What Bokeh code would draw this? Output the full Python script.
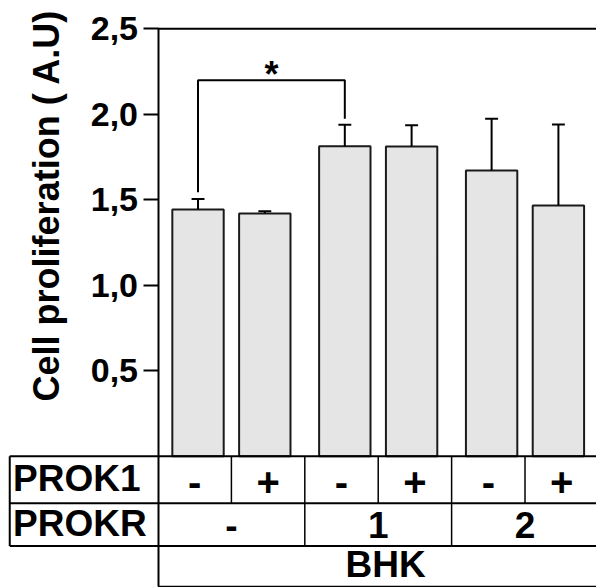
import math
from bokeh.plotting import figure
from bokeh.models import Range1d, FixedTicker, ColumnDataSource
from bokeh.core.properties import value
from bokeh.embed import file_html
from bokeh.resources import INLINE

# ---------------- data ----------------
prok1 = ["-", "+", "-", "+", "-", "+"]
prokr = ["-", "1", "2"]
cell_line = "BHK"
row_titles = ["PROK1", "PROKR"]
means = [1.443, 1.420, 1.813, 1.812, 1.671, 1.467]
sem = [0.061, 0.013, 0.126, 0.124, 0.303, 0.473]
y_ticks = [0.5, 1.0, 1.5, 2.0, 2.5]
y_tick_labels = ["0,5", "1,0", "1,5", "2,0", "2,5"]
y_title = "Cell proliferation ( A.U)"
sig_pair = (0, 2)
sig_mark = "*"

FONT = value("Liberation Sans")

# ---------------- layout helpers ----------------
n = len(means)
bar_x = [1 + 2 * (i // 2) + (-0.455 if i % 2 == 0 else 0.455) for i in range(n)]
err_top = [m + s for m, s in zip(means, sem)]
col_centers = [i + 0.5 for i in range(n)]
group_centers = [1 + 2 * g for g in range(len(prokr))]

Y0, Y1, Y2, Y3 = 0.0, -0.275, -0.525, -0.762   # table row boundaries
LEFT = -2.02                                   # left edge of the row-title column
YMAX = y_ticks[-1]

p = figure(width=596, height=587, x_range=Range1d(-2.146, 5.974), y_range=Range1d(-0.767, 2.665),
           output_backend="svg", toolbar_location=None, x_axis_location=None,
           min_border_left=0, min_border_right=0, min_border_top=0, min_border_bottom=0)
p.grid.visible = False
p.outline_line_color = None
p.background_fill_color = "white"
p.border_fill_color = "white"

ax = p.yaxis[0]
ax.fixed_location = 0
ax.ticker = FixedTicker(ticks=y_ticks)
ax.major_label_overrides = {t: l for t, l in zip(y_ticks, y_tick_labels)}
ax.bounds = (Y3, YMAX)
ax.axis_line_width = 2
ax.axis_line_color = "black"
ax.major_tick_line_width = 2
ax.major_tick_line_color = "black"
ax.major_tick_out = 15
ax.major_tick_in = 0
ax.minor_tick_line_color = None
ax.major_label_standoff = 5
ax.major_label_text_font = "Liberation Sans"
ax.major_label_text_font_style = "bold"
ax.major_label_text_font_size = "34px"
ax.major_label_text_color = "black"

# top border of the plot box
p.segment(x0=[0], y0=[YMAX], x1=[7], y1=[YMAX], line_color="black", line_width=2)

# bars
src = ColumnDataSource(dict(x=bar_x, top=means, et=err_top))
p.vbar(x="x", top="top", bottom=0, width=0.70, source=src,
       fill_color="#e5e5e5", line_color="#1a1a1a", line_width=2)
# error bars (upper only)
p.segment(x0="x", y0="top", x1="x", y1="et", source=src, line_color="black", line_width=2)
cap = 0.088
p.segment(x0=[x - cap for x in bar_x], y0=err_top, x1=[x + cap for x in bar_x], y1=err_top,
          line_color="black", line_width=2)

# significance bracket
a, b = sig_pair
br_y = 2.198
p.line(x=[bar_x[a], bar_x[a], bar_x[b], bar_x[b]],
       y=[err_top[a] + 0.04, br_y, br_y, err_top[b] + 0.035],
       line_color="black", line_width=2)
p.text(x=[(bar_x[a] + bar_x[b]) / 2], y=[br_y + 0.035], text=[sig_mark],
       text_align="center", text_baseline="alphabetic", text_font=FONT,
       text_font_style="bold", text_font_size="36px", text_color="black")

# table lines
p.segment(x0=[0, LEFT, LEFT, 0], y0=[Y0, Y1, Y2, Y3], x1=[7, 7, 7, 7], y1=[Y0, Y1, Y2, Y3],
          line_color="black", line_width=2)
p.segment(x0=[LEFT], y0=[Y0], x1=[0], y1=[Y0], line_color="black", line_width=2)
p.segment(x0=[LEFT], y0=[Y0], x1=[LEFT], y1=[Y2], line_color="black", line_width=2)
p.segment(x0=[1, 2, 3, 4, 5], y0=[Y0] * 5, x1=[1, 2, 3, 4, 5], y1=[Y1] * 5,
          line_color="black", line_width=1.5)
p.segment(x0=[2, 4], y0=[Y1] * 2, x1=[2, 4], y1=[Y2] * 2,
          line_color="black", line_width=1.5)

tstyle = dict(text_align="center", text_baseline="middle", text_font=FONT,
              text_font_style="bold", text_color="black")
p.text(x=col_centers, y=[(Y0 + Y1) / 2 - 0.01] * n, text=prok1, text_font_size="40px", **tstyle)
p.text(x=group_centers, y=[(Y1 + Y2) / 2] * len(prokr), text=prokr, text_font_size="37px", **tstyle)
p.text(x=[3.1], y=[(Y2 + Y3) / 2 + 0.01], text=[cell_line], text_font_size="37px", **tstyle)

# row titles
p.text(x=[LEFT + 0.045] * 2, y=[(Y0 + Y1) / 2 + 0.01, (Y1 + Y2) / 2 + 0.01], text=row_titles,
       text_align="left", text_baseline="middle", text_font=FONT,
       text_font_style="bold", text_font_size="37px", text_color="black")

# y-axis title
p.text(x=[-1.52], y=[1.467], text=[y_title], angle=math.pi / 2,
       text_align="center", text_baseline="middle", text_font=FONT,
       text_font_style="bold", text_font_size="36px", text_color="black")

open("out.html", "w").write(file_html(p, INLINE))
